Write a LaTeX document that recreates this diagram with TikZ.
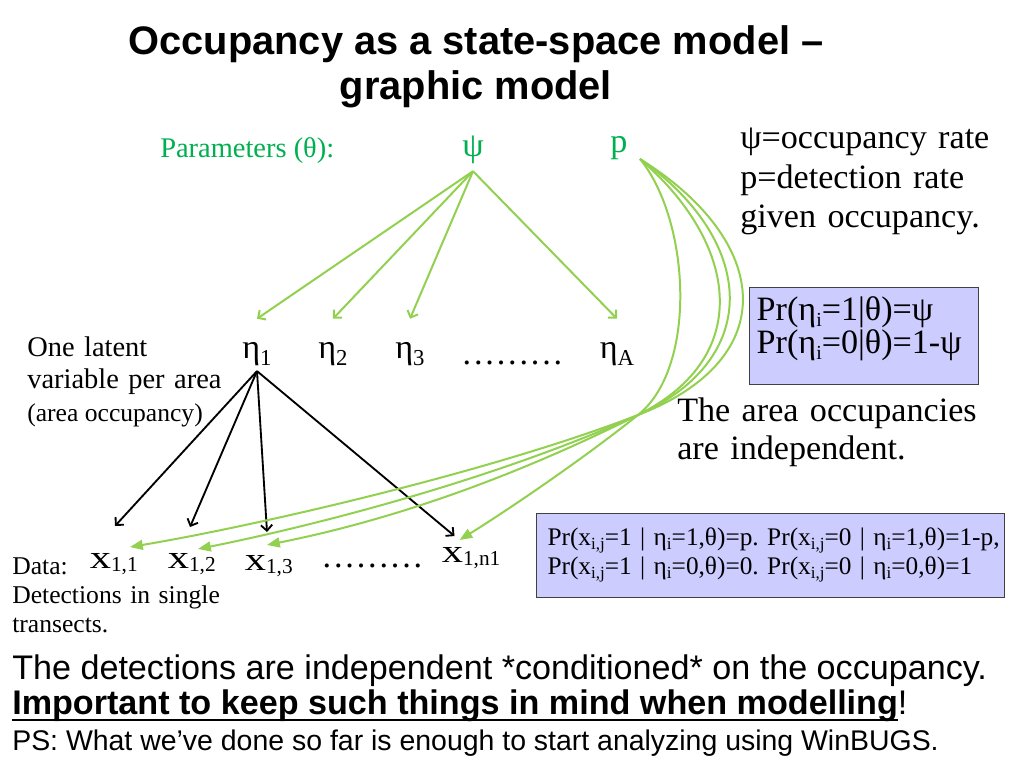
\documentclass[tikz,border=0pt]{standalone}
\usepackage{fontspec}
\setmainfont{Liberation Serif}
\setsansfont{Liberation Sans}
\usepackage{graphicx}
\usepackage{xcolor}
\usepackage{tikz}
\usetikzlibrary{calc,arrows.meta}

\definecolor{txtgreen}{RGB}{0,176,80}
\definecolor{arrgreen}{RGB}{146,208,80}
\definecolor{boxfill}{RGB}{204,204,255}
\definecolor{boxline}{RGB}{64,64,64}

\newcommand{\fsz}[2]{\fontsize{#1}{#2}\selectfont}
\newcommand{\lo}[3]{\raisebox{-#1}{\fsz{#2}{#2}#3}}
\newcommand{\sbs}[1]{\lo{3pt}{12}{#1}}
\newcommand{\wx}{\scalebox{1.3}[1]{x}}
\newcommand{\dotrow}{\hbox to 72pt{\xleaders\hbox to 8pt{\hss.\hss}\hfill}}
\newcommand{\ulbar}[1]{\setbox0\hbox{#1}\rlap{\rule[-5pt]{\wd0}{1.8pt}}\box0}

\tikzset{
  txt/.style={inner sep=0pt, anchor=base west},
  grn/.style={inner sep=0pt, text=txtgreen},
  eta/.style={inner sep=0pt, anchor=base, text height=27.4pt, text depth=9pt, font=\fsz{24}{24}},
  xv/.style={inner sep=0pt, anchor=base west, font=\fsz{23}{23}},
  condbox/.style={anchor=north west, inner ysep=0pt, fill=boxfill, draw=boxline, line width=0.8pt, align=left},
  parr/.style={draw=arrgreen, line width=1.4pt, -{Straight Barb[length=4pt,width=8pt]}},
  darr/.style={draw=black, line width=1.3pt, -{Straight Barb[length=4pt,width=8pt]}},
  pcurve/.style={draw=arrgreen, line width=1.4pt, -{Triangle[length=9pt,width=7pt]}}
}

\begin{document}
\frenchspacing
\begin{tikzpicture}[x=0.703125pt, y=-0.703125pt]
\path[use as bounding box, fill=white] (0,0) rectangle (1024,768);

% タイトル
\node[anchor=base, inner sep=0pt, font=\sffamily\bfseries\fsz{28}{28}] (title1) at (476,55) {Occupancy as a state-space model –};
\node[anchor=base, inner sep=0pt, font=\sffamily\bfseries\fsz{28}{28}] (title2) at (476,100) {graphic model};

% パラメータ
\node[grn, anchor=base west, font=\fsz{20}{20}] (params) at (160,158) {Parameters (θ):};
\node[grn, anchor=base, text depth=9.8pt, font=\fsz{24}{24}] (psi) at (473,157) {ψ};
\node[grn, anchor=base, font=\fsz{24}{24}] (p) at (619,153) {p};
\node[txt, text width=190pt, align=left, font=\fsz{24}{27.5}] (defs) at (740,149) {ψ=occupancy rate\\p=detection rate\\given occupancy.};

% 潜在変数
\node[txt, text width=150pt, align=left, font=\fsz{20}{23.2}] (latent) at (27,356) {One latent\\variable per area};
\node[txt, font=\fsz{18}{18}] (latentnote) at (27,421) {(area occupancy)};
\node[eta] (eta1) at (257,358) {η\lo{5.5pt}{16}{1}};
\node[eta] (eta2) at (333,358) {η\lo{5.5pt}{16}{2}};
\node[eta] (eta3) at (410,358) {η\lo{5.5pt}{16}{3}};
\node[txt, font=\fsz{24}{24}] (etadots) at (461,364) {\dotrow};
\node[eta] (etaA) at (617,358) {η\lo{5.5pt}{16}{A}};

\node[condbox, inner xsep=5pt, text width=151pt, text height=23.2pt, text depth=45pt, font=\fsz{24}{21.8}] (prEta) at (749,287)
  {Pr(η\lo{4.5pt}{14}{i}=1|θ)=ψ\\Pr(η\lo{4.5pt}{14}{i}=0|θ)=1-ψ};
\node[txt, text width=220pt, align=left, font=\fsz{24}{27.4}] (indep) at (677,421) {The area occupancies\\are independent.};

% データ
\node[txt, text width=150pt, align=left, font=\fsz{18}{20.4}] (data) at (12,574) {Data:\\Detections in single\\transects.};
\node[xv] (x11) at (89.5,568) {\wx\lo{2.5pt}{15}{1,1}};
\node[xv] (x12) at (167.5,568) {\wx\lo{2.5pt}{15}{1,2}};
\node[xv] (x13) at (244.5,570) {\wx\lo{2.5pt}{15}{1,3}};
\node[txt, font=\fsz{24}{24}] (xdots) at (321,567) {\dotrow};
\node[xv] (x1n) at (441.5,562) {\wx\lo{2.5pt}{15}{1,n1}};

\node[condbox, inner xsep=7.7pt, text width=313.6pt, text height=22.5pt, text depth=36.5pt, font=\fsz{17.8}{20.4}] (prX) at (536,513)
  {\mbox{Pr(x\sbs{i,j}=1 | η\sbs{i}=1,θ)=p. Pr(x\sbs{i,j}=0 | η\sbs{i}=1,θ)=1-p,}\\\mbox{Pr(x\sbs{i,j}=1 | η\sbs{i}=0,θ)=0. Pr(x\sbs{i,j}=0 | η\sbs{i}=0,θ)=1}};

% 下の文
\node[txt, font=\sffamily\fsz{24}{24}] (concl) at (12,679) {The detections are independent *conditioned* on the occupancy.};
\node[txt, font=\sffamily\fsz{24}{24}] (imp) at (12,714) {\textbf{\ulbar{Important to keep such things in mind when modelling}}!};
\node[txt, font=\sffamily\fsz{20}{20}] (ps) at (12,750) {PS: What we’ve done so far is enough to start analyzing using WinBUGS.};

% ψ -> η
\foreach \e in {eta1,eta2,eta3,etaA}
  \draw[parr] (psi.south) -- (\e.north);

% η1 -> x
\draw[darr] (eta1.south) -- ($(x11.base west)+(25.5,-42)$);
\draw[darr] (eta1.south) -- ($(x12.base west)+(22.5,-41)$);
\draw[darr] (eta1.south) -- ($(x13.base west)+(22.5,-38)$);
\draw[darr] (eta1.south) -- ($(x1n.base west)+(13,-26)$);

% p -> x
\coordinate (pfoot) at ($(p.base)+(21,6)$);
\coordinate (cross) at (638,415);
\draw[pcurve] (pfoot) .. controls (770,240) and (785,358) .. (cross)
  .. controls (488,473) and (250,527) .. ($(x11.base west)+(40.5,-21)$);
\draw[pcurve] (pfoot) .. controls (755,240) and (765,358) .. (cross)
  .. controls (488,482) and (308,527) .. ($(x12.base west)+(30.5,-19)$);
\draw[pcurve] (pfoot) .. controls (735,240) and (758,355) .. (cross)
  .. controls (488,490) and (367,525) .. ($(x13.base west)+(22.5,-25)$);
\draw[pcurve] (pfoot) .. controls (690,220) and (698,367) .. (cross)
  .. controls (578,463) and (500,515) .. ($(x1n.base west)+(18,-22)$);

\end{tikzpicture}
\end{document}
